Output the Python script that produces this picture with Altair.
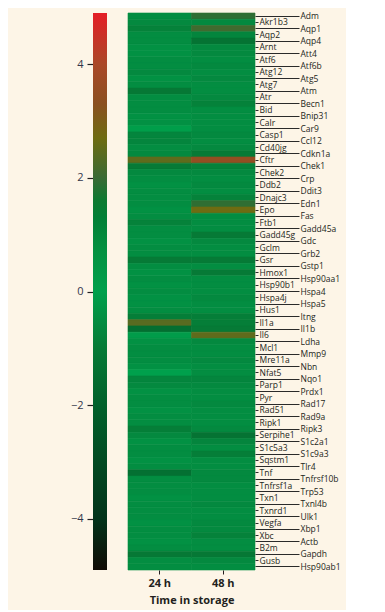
import json
import altair as alt
import pandas as pd

genes = ["Adm", "Akr1b3", "Aqp1", "Aqp2", "Aqp4", "Arnt", "Att4", "Atf6", "Atf6b", "Atg12",
         "Atg5", "Atg7", "Atm", "Atr", "Becn1", "Bid", "Bnip31", "Calr", "Car9", "Casp1",
         "Ccl12", "Cd40jg", "Cdkn1a", "Cftr", "Chek1", "Chek2", "Crp", "Ddb2", "Ddit3", "Dnajc3",
         "Edn1", "Epo", "Fas", "Ftb1", "Gadd45a", "Gadd45g", "Gdc", "Gclm", "Grb2", "Gsr",
         "Gstp1", "Hmox1", "Hsp90aa1", "Hsp90b1", "Hspa4", "Hspa4j", "Hspa5", "Hus1", "Itng", "Il1a",
         "Il1b", "Il6", "Ldha", "Mcl1", "Mmp9", "Mre11a", "Nbn", "Nfat5", "Nqo1", "Parp1",
         "Prdx1", "Pyr", "Rad17", "Rad51", "Rad9a", "Ripk1", "Ripk3", "Serpihe1", "S1c2a1", "S1c5a3",
         "S1c9a3", "Sqstm1", "Tlr4", "Tnf", "Tnfrsf10b", "Tnfrsf1a", "Trp53", "Txn1", "Txnl4b", "Txnrd1",
         "Ulk1", "Vegfa", "Xbp1", "Xbc", "Actb", "B2m", "Gapdh", "Gusb", "Hsp90ab1"]

times = ["24 h", "48 h"]

v24 = [-0.5, -0.6, -0.8, -0.5, -0.5, -0.4, -0.4, -0.5, -0.5, -0.6,
       -0.4, -0.5, -1.1, -0.5, -0.5, -0.5, -0.4, -0.4, 0.1, -0.7,
       -0.7, -0.5, -0.6, 2.5, -1.0, -0.6, -0.5, -0.4, -0.5, -0.5,
       -0.5, -0.4, -0.5, -0.8, -0.5, -0.5, -0.4, -0.5, -0.5, -1.0,
       -0.5, -0.4, -0.5, -0.4, -0.5, -0.4, -0.4, -0.5, -0.9, 2.4,
       -1.5, -0.1, -0.4, -0.5, -0.5, -0.5, -0.4, 0.0, -0.7, -0.6,
       -0.4, -0.5, -0.5, -0.4, -0.5, -0.5, -0.9, -0.6, -0.4, -0.5,
       -0.5, -0.4, -0.5, -1.4, -0.5, -0.5, -0.5, -0.4, -0.5, -0.5,
       -0.5, -0.4, -0.5, -0.5, -0.4, -0.5, -1.1, -0.5, -0.5]

v48 = [1.9, -0.6, 2.1, -0.7, -1.3, -0.6, -0.6, -0.5, -0.6, -0.5,
       -0.6, -0.5, -0.5, -0.6, -0.8, -0.5, -0.5, -0.5, -0.5, -0.6,
       -0.5, -0.6, -1.0, 3.5, -0.8, -0.6, -0.5, -0.6, -0.5, -0.8,
       1.9, 2.7, -0.5, -0.5, -0.5, -1.0, -0.6, -0.5, -0.5, -1.0,
       -0.5, -1.0, -0.5, -0.5, -0.5, -0.6, -0.5, -0.5, -0.9, -0.9,
       -1.0, 2.5, -0.6, -0.5, -0.5, -0.6, -0.5, -0.5, -0.7, -0.6,
       -0.5, -0.5, -0.6, -0.5, -0.5, -0.5, -0.6, -1.3, -0.7, -0.5,
       -0.9, -0.5, -0.5, -0.6, -0.6, -0.5, -0.5, -0.5, -0.6, -0.5,
       -0.5, -0.6, -0.6, -0.8, -0.5, -0.5, -1.1, -0.6, -0.5]

cbar_values = [-4.9, -4, -3, -2, -1, 0, 0.7, 1.3, 1.6, 2, 2.7, 3.3, 4, 4.9]
cbar_colors = ["#110c06", "#02331a", "#024a22", "#01612b", "#067a36", "#00a04c",
               "#039141", "#027f36", "#0d7a31", "#3a6a34", "#6e6c12", "#8a5020",
               "#aa4828", "#e41e26"]
cbar_ticks = [-4, -2, 0, 2, 4]

BG = "#fdf5e7"
TEXT = "#231f20"

lo, hi = cbar_values[0], cbar_values[-1]
stops = [{"offset": (v - lo) / (hi - lo), "color": c} for v, c in zip(cbar_values, cbar_colors)]

cb_df = pd.DataFrame({"lo": [lo], "hi": [hi]})
cbar = alt.Chart(cb_df).mark_rect(
    color={"gradient": "linear", "stops": stops, "x1": 0, "x2": 0, "y1": 1, "y2": 0}
).encode(
    y=alt.Y("lo:Q", scale=alt.Scale(domain=[lo, hi], nice=False, zero=False),
            axis=alt.Axis(values=cbar_ticks, title=None, grid=False, domain=False,
                          tickSize=6, tickColor=TEXT, tickWidth=1.2, labelPadding=4,
                          labelFontSize=11, labelFont="Open Sans", labelColor="#33364a")),
    y2="hi:Q",
).properties(width=14, height=557)

outer = genes[0::2]
test = "indexof(" + json.dumps(outer) + ", datum.value) >= 0"

df = pd.DataFrame({
    "gene": genes * 2,
    "time": [times[0]] * len(genes) + [times[1]] * len(genes),
    "value": v24 + v48,
})

cscale = alt.Scale(domain=cbar_values, range=cbar_colors, interpolate="rgb")

heat = alt.Chart(df).mark_rect(strokeWidth=0.6).encode(
    x=alt.X("time:N", sort=times, scale=alt.Scale(paddingInner=0, paddingOuter=0),
            axis=alt.Axis(title="Time in storage", labelAngle=0, domain=False,
                          tickSize=4, tickColor=TEXT, labelPadding=3,
                          labelFont="Open Sans", labelFontSize=11, labelFontWeight="bold",
                          labelColor=TEXT, titleFont="Open Sans", titleFontSize=11,
                          titleFontWeight="bold", titleColor=TEXT, titlePadding=6)),
    y=alt.Y("gene:N", sort=genes, scale=alt.Scale(paddingInner=0, paddingOuter=0),
            axis=alt.Axis(orient="right", title=None, domain=False, labelOverlap=False,
                          tickSize={"condition": {"test": test, "value": 44}, "value": 3},
                          tickColor="#2a2a2a", tickWidth=1, labelPadding=1,
                          labelFont="Open Sans", labelFontSize=8.5, labelColor=TEXT,
                          labelBaseline="middle")),
    color=alt.Color("value:Q", scale=cscale, legend=None),
    stroke=alt.Stroke("value:Q", scale=cscale, legend=None),
).properties(width=127, height=557)

chart = alt.hconcat(cbar, heat, spacing=20).properties(
    padding={"left": 62, "top": 3, "right": 5, "bottom": 5},
    background=BG,
).configure_view(stroke=None)

chart.save("out.html", embed_options={"renderer": "svg", "actions": False})
